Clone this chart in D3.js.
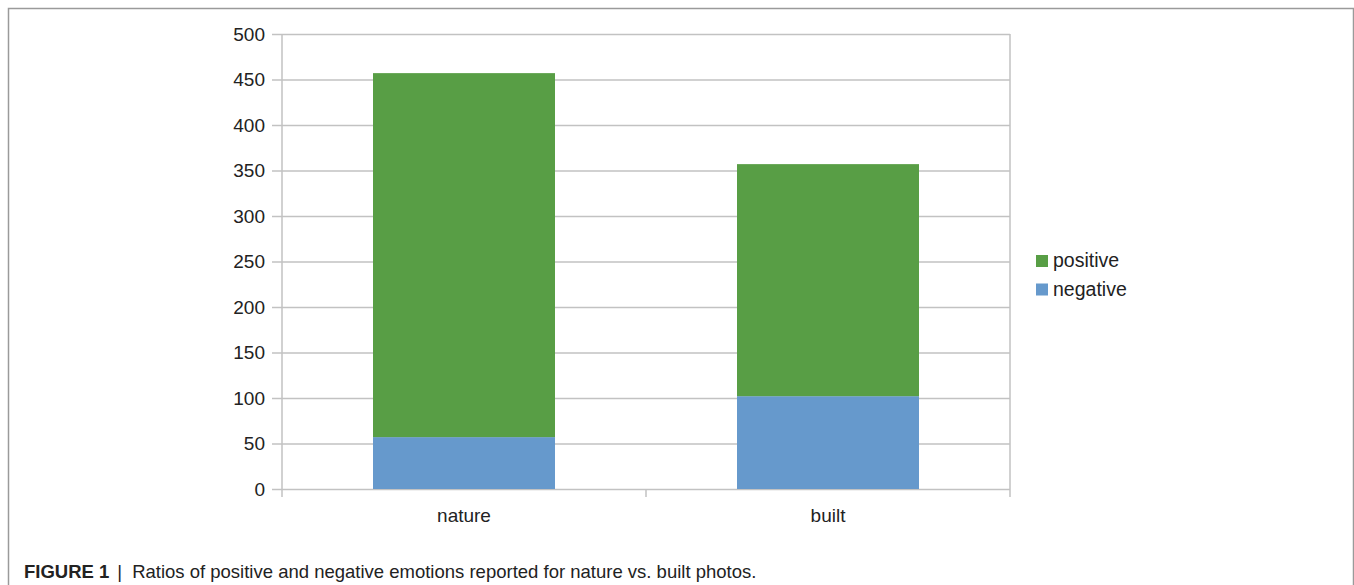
<!DOCTYPE html>
<html>
<head>
<meta charset="utf-8">
<script src="https://cdn.jsdelivr.net/npm/d3@7"></script>
<style>
  body { margin: 0; background: #fff; }
  svg { display: block; font-family: "Liberation Sans", Arial, sans-serif; }
</style>
</head>
<body>
<svg id="chart" width="1354" height="585"></svg>
<script>
const categories = ["nature", "built"];
const negative = [57, 102];
const positive = [400, 255];
const seriesNames = ["negative", "positive"];
const legendNames = ["positive", "negative"];
const yTicks = [0, 50, 100, 150, 200, 250, 300, 350, 400, 450, 500];

const colors = {positive: "#589e45", negative: "#6699cc"};

const svg = d3.select("#chart");

// figure frame
svg.append("rect")
    .attr("x", 8.5).attr("y", 8.5).attr("width", 1345).attr("height", 640)
    .style("fill", "none").style("stroke", "#9a9a9a").style("stroke-width", 1.5);

const plotLeft = 282, plotRight = 1010, plotTop = 34, plotBottom = 489;

const x = d3.scaleBand().domain(categories).range([plotLeft, plotRight])
    .paddingInner(0.5).paddingOuter(0.25);
const xEdge = d3.scaleLinear().domain([0, categories.length]).range([plotLeft, plotRight]);
const y = d3.scaleLinear().domain([0, 500]).range([plotBottom, plotTop]);

const table = categories.map((c, i) => ({cat: c, negative: negative[i], positive: positive[i]}));
const stacked = d3.stack().keys(seriesNames)(table);

// grid lines + y labels
const yAxis = svg.append("g")
    .attr("transform", "translate(" + plotRight + ",0)")
    .call(d3.axisLeft(y).tickValues(yTicks).tickSize(plotRight - plotLeft + 10).tickPadding(7));
yAxis.select(".domain").remove();
yAxis.selectAll("line").style("stroke", "#c2c2c2").style("stroke-width", 1.5);
yAxis.selectAll("text").style("font-size", "19px").style("fill", "#222")
    .style("font-family", "'Liberation Sans', Arial, sans-serif");

// bars
svg.append("g")
    .selectAll("g")
    .data(stacked)
    .join("g")
    .style("fill", d => colors[d.key])
    .selectAll("rect")
    .data(d => d)
    .join("rect")
    .attr("x", d => x(d.data.cat))
    .attr("width", x.bandwidth())
    .attr("y", d => y(d[1]))
    .attr("height", d => y(d[0]) - y(d[1]));

// vertical axis lines and category ticks
const edges = d3.range(categories.length + 1);
svg.append("g").selectAll("line")
    .data(edges)
    .join("line")
    .attr("x1", d => xEdge(d)).attr("x2", d => xEdge(d))
    .attr("y1", d => (d === 0 || d === categories.length) ? plotTop : plotBottom)
    .attr("y2", plotBottom + 8)
    .style("stroke", "#c2c2c2").style("stroke-width", 1.5);

// category labels
svg.append("g").selectAll("text")
    .data(categories)
    .join("text")
    .attr("x", d => x(d) + x.bandwidth() / 2)
    .attr("y", 522)
    .attr("text-anchor", "middle")
    .style("font-size", "19px").style("fill", "#222")
    .text(d => d);

// legend
const legend = svg.append("g").selectAll("g")
    .data(legendNames)
    .join("g")
    .attr("transform", (d, i) => "translate(1036," + (255 + i * 28.5) + ")");
legend.append("rect")
    .attr("width", 12).attr("height", 12)
    .style("fill", d => colors[d]);
legend.append("text")
    .attr("x", 17).attr("y", 12)
    .style("font-size", "19.5px").style("fill", "#222")
    .text(d => d);

// caption
const cap = svg.append("text")
    .attr("x", 24).attr("y", 578)
    .style("font-size", "18.5px").style("fill", "#222");
cap.append("tspan").style("font-weight", "bold").text("FIGURE 1");
cap.append("tspan").attr("dx", 8).text("|");
cap.append("tspan").attr("dx", 10).text("Ratios of positive and negative emotions reported for nature vs. built photos.");
</script>
</body>
</html>
